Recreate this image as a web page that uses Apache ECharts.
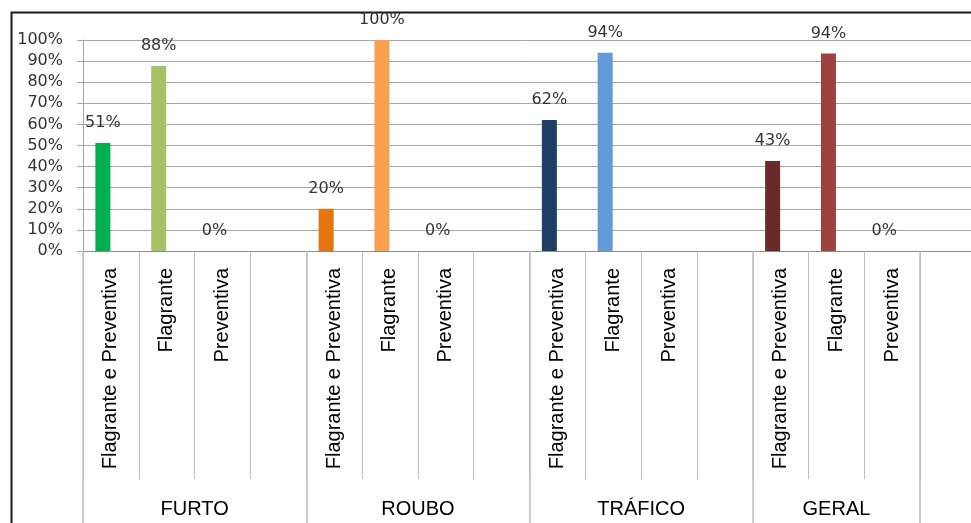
<!DOCTYPE html>
<html>
<head>
<meta charset="utf-8">
<script src="https://cdn.jsdelivr.net/npm/echarts@6/dist/echarts.min.js"></script>
<style>
  html, body { margin: 0; padding: 0; background: #ffffff; }
  #chart { width: 971px; height: 523px; }
</style>
</head>
<body>
<div id="chart"></div>
<script>
// ---- data ----
const groups = ['FURTO', 'ROUBO', 'TRÁFICO', 'GERAL'];
const subCategories = ['Flagrante e Preventiva', 'Flagrante', 'Preventiva', ''];
const furto   = [51.2, 87.7, 0, null];
const roubo   = [20.0, 100, 0, null];
const trafico = [62.1, 94.0, null, null];
const geral   = [42.7, 93.6, 0, null];
const yTicks  = [0, 10, 20, 30, 40, 50, 60, 70, 80, 90, 100];

// ---- styles ----
const groupColors = [
  ['#00B050', '#A6C064', null, null],
  ['#E8740F', '#F9A050', null, null],
  ['#1F3F66', '#6299D9', null, null],
  ['#6B2A2A', '#9E4241', null, null]
];

const categories = [];
groups.forEach(() => subCategories.forEach(c => categories.push(c)));
const allValues = [furto, roubo, trafico, geral];
const barData = [];
allValues.forEach((arr, gi) => arr.forEach((v, i) => {
  if (v === null) { barData.push('-'); }
  else barData.push({ value: v, itemStyle: { color: groupColors[gi][i] || '#999' } });
}));
const dummy = categories.map(() => '-');

// group centers/boundaries expressed in category-slot units
const groupCenters = { 2: 'FURTO', 6: 'ROUBO', 10: 'TRÁFICO', 13.5: 'GERAL' };
const groupBoundaries = [0, 4, 8, 12, 15];

const chart = echarts.init(document.getElementById('chart'));
const gridCfg = { left: 83, top: 40, width: 893, height: 211, outerBoundsMode: 'none', containLabel: false };
chart.setOption({
  animation: false,
  graphic: [{
    type: 'rect', left: 9, top: 10,
    shape: { width: 1100, height: 700 },
    style: { fill: 'none', stroke: '#1a1a1a', lineWidth: 2 },
    silent: true
  }],
  grid: gridCfg,
  xAxis: [
    {
      type: 'category',
      data: categories,
      position: 'bottom',
      axisLine: { show: true, lineStyle: { color: '#8c8c8c', width: 1 } },
      axisTick: { show: true, interval: 0, length: 228, lineStyle: { color: '#bdbdbd', width: 1 } },
      axisLabel: {
        interval: 0, rotate: 90, margin: 17,
        fontFamily: 'Liberation Sans', fontSize: 20, color: '#000'
      },
      splitLine: { show: false }
    },
    {
      type: 'value', min: 0, max: 16, interval: 0.5,
      position: 'bottom',
      axisLine: { show: false }, axisTick: { show: false }, splitLine: { show: false },
      axisLabel: {
        margin: 248, fontFamily: 'Liberation Sans', fontSize: 20, color: '#000',
        showMinLabel: true, showMaxLabel: true,
        formatter: v => groupCenters[v] || ''
      }
    },
    {
      type: 'category',
      data: categories,
      position: 'bottom',
      axisLine: { show: false },
      axisLabel: { show: false },
      axisTick: {
        show: true, length: 272,
        interval: (i) => groupBoundaries.indexOf(i) >= 0,
        lineStyle: { color: '#bdbdbd', width: 1.5 }
      },
      splitLine: { show: false }
    }
  ],
  yAxis: {
    type: 'value', min: yTicks[0], max: yTicks[yTicks.length - 1], interval: 10,
    axisLine: { show: true, lineStyle: { color: '#a6a6a6' } },
    axisTick: { show: true, length: 6, lineStyle: { color: '#a6a6a6' } },
    splitLine: { show: true, lineStyle: { color: '#a6a6a6', width: 1 } },
    axisLabel: {
      margin: 20, fontFamily: 'DejaVu Sans', fontSize: 16, color: '#333',
      formatter: '{value}%'
    }
  },
  series: [
    {
      type: 'bar', xAxisIndex: 0, yAxisIndex: 0,
      data: barData, barWidth: 15, barGap: '7%',
      label: {
        show: true, position: 'top', distance: 11,
        fontFamily: 'DejaVu Sans', fontSize: 16, lineHeight: 18, color: '#333',
        formatter: p => Math.round(p.value) + '%'
      }
    },
    {
      type: 'bar', xAxisIndex: 0, yAxisIndex: 0,
      data: dummy, barWidth: 15, barGap: '7%'
    }
  ]
});
</script>
</body>
</html>
